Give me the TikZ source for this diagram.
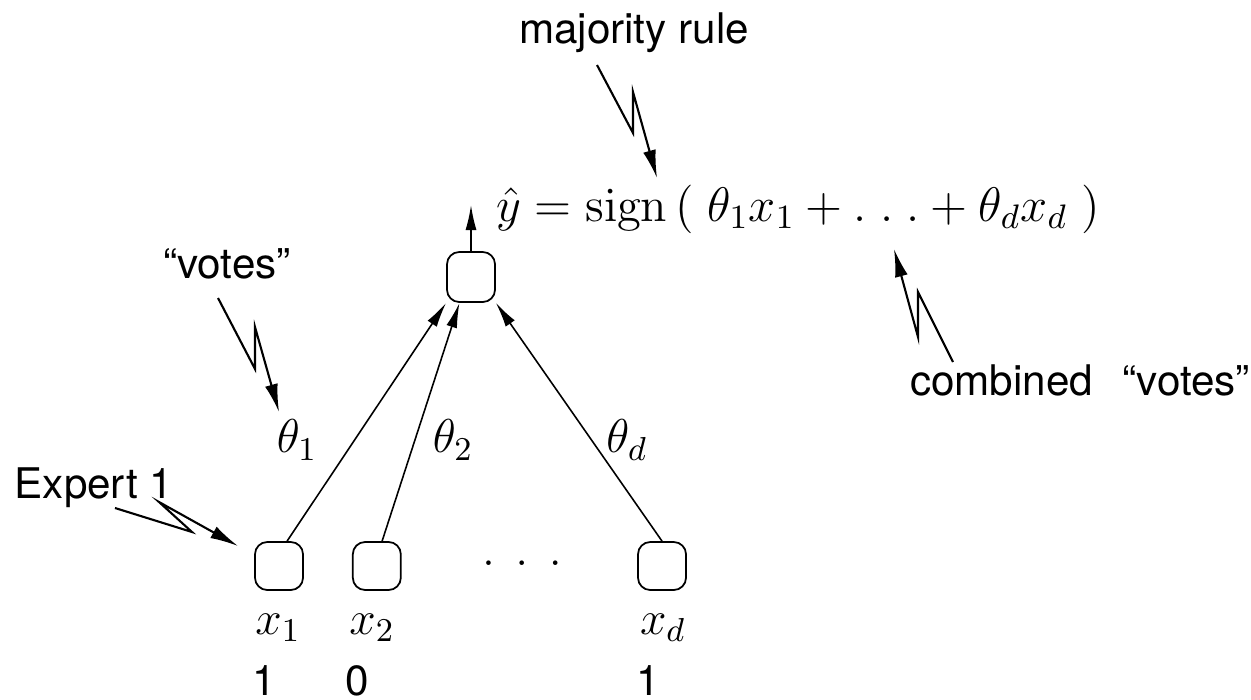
\documentclass[tikz,border=0pt]{standalone}
\usepackage{fix-cm}
\usepackage[no-math]{fontspec}
\setmainfont{TeX Gyre Heros}
\usetikzlibrary{arrows.meta,positioning}
\tikzset{
  % Rounded unit box
  unit/.style={rectangle,rounded corners=3.5pt,draw,line width=0.5pt,
    minimum width=0.48cm,minimum height=0.48cm,inner sep=0pt},
  % Text and math labels
  txt/.style={font=\fontsize{12}{14}\selectfont,inner sep=0pt},
  mth/.style={font=\fontsize{13.5}{16}\selectfont,inner sep=0pt},
  % Arrows
  arr/.style={-{Latex[length=2.5mm,width=1.1mm]},line width=0.45pt},
  bolt/.style={-{Latex[length=2.8mm,width=1.3mm]},line width=0.6pt},
}
\begin{document}
\begin{tikzpicture}[x=0.01cm,y=-0.01cm]
  \useasboundingbox (0,0) rectangle (1251,700);

  % units
  \node[unit,minimum height=0.5cm] (out) at (471,277) {};
  \node[unit] (in1) at (279,566) {};
  \node[unit,right=0.48cm of in1] (in2) {};
  \node[unit] (ind) at (662,566) {};
  \node[mth] (dots) at (522,563) {$.\hspace{5.8pt}.\hspace{5.8pt}.$};

  % inputs and values
  \node[mth] (lx1) at (278,628) {$x_1$};
  \node[mth] (lx2) at (372,628) {$x_2$};
  \node[mth] (lxd) at (663,628) {$x_d$};
  \node[txt] (v1) at (264,681) {1};
  \node[txt] (v2) at (357,681) {0};
  \node[txt] (vd) at (648,681) {1};

  % weights
  \node[mth] (t1) at (297,440) {$\theta_1$};
  \node[mth] (t2) at (453,440) {$\theta_2$};
  \node[mth] (td) at (627,440) {$\theta_d$};

  % output
  \node[mth,font=\fontsize{13.8}{16}\selectfont] (rule) at (798,209)
    {$\hat{y}=\mathrm{sign}\,(\;\theta_1x_1+{.\;.\;.}+\theta_dx_d\;)$};
  \coordinate (yhat) at (471,205);

  % comments
  \node[txt] (maj) at (634,33) {majority rule};
  \node[txt] (votes) at (227,264) {``votes''};
  \node[txt] (comb) at (1080,380) {combined\hspace{0.7em}``votes''};
  \node[txt] (expert) at (94,488) {Expert 1};

  \draw[arr] (in1.72) -- (out.south west);
  \draw[arr] (in2.78) -- (out.246);
  \draw[arr] (ind.north) -- (out.south east);
  \draw[arr] (out.north) -- (yhat);

  % lightning arrows
  \coordinate (majA) at (597,65);  \coordinate (majB) at (657,178);
  \coordinate (votA) at (218,298); \coordinate (votB) at (279,412);
  \coordinate (expA) at (115,508); \coordinate (expB) at (238,546);
  \coordinate (comA) at (953,362); \coordinate (comB) at (894,249);
  \draw[bolt] (majA) -- (633,133) -- (633,92) -- (majB);
  \draw[bolt] (votA) -- (255,369) -- (255,327) -- (votB);
  \draw[bolt] (expA) -- (192,532) -- (159,502) -- (expB);
  \draw[bolt] (comA) -- (918,292) -- (918,337) -- (comB);
\end{tikzpicture}
\end{document}
